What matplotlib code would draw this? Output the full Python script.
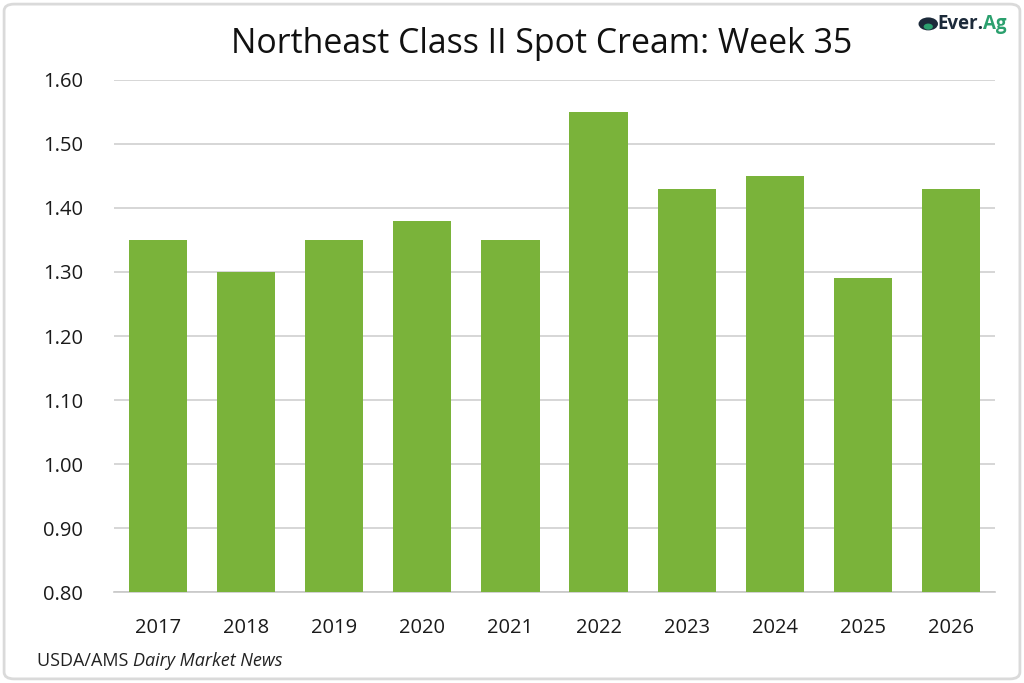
import matplotlib
matplotlib.use("Agg")
import matplotlib.pyplot as plt
from matplotlib.patches import FancyBboxPatch, Circle

years = ["2017", "2018", "2019", "2020", "2021", "2022", "2023", "2024", "2025", "2026"]
prices = [1.35, 1.30, 1.35, 1.38, 1.35, 1.55, 1.43, 1.45, 1.29, 1.43]
yticks = [0.80, 0.90, 1.00, 1.10, 1.20, 1.30, 1.40, 1.50, 1.60]

plt.rcParams['font.family'] = ['Open Sans', 'DejaVu Sans']

fig = plt.figure(figsize=(10.24, 6.83), dpi=100)
ax = fig.add_axes([0.111, 0.1332, 0.861, 0.7497])

x = list(range(len(years)))
ax.bar(x, prices, width=0.66, color="#7AB33A", zorder=3)
ax.set_xlim(-0.5, len(years) - 0.5)
ax.set_ylim(0.8, 1.6)
ax.set_yticks(yticks)
ax.set_yticklabels([f"{v:.2f}" for v in yticks])
ax.set_xticks(x)
ax.set_xticklabels(years)
ax.grid(axis="y", color="#D0D0D0", linewidth=1.2, zorder=0)
for s in ["top", "right", "left"]:
    ax.spines[s].set_visible(False)
ax.spines["bottom"].set_color("#C8C8C8")
ax.spines["bottom"].set_linewidth(1.2)
ax.tick_params(axis="both", length=0, labelsize=14.5, colors="#1a1a1a")
ax.tick_params(axis="x", pad=19)
ax.tick_params(axis="y", pad=22)

fig.text(0.529, 0.936, "Northeast Class II Spot Cream: Week 35", ha="center", va="center",
         fontsize=24.4, color="#111111")

t1 = fig.text(0.036, 0.032, "USDA/AMS ", ha="left", va="center", fontsize=13, color="#222222")
fig.canvas.draw()
bb = t1.get_window_extent()
fig.text(bb.x1 / fig.bbox.width, 0.032, "Dairy Market News", ha="left", va="center",
         fontsize=13, style="italic", color="#222222")

# logo
fig.patches.append(Circle((0.9065, 0.965), 0.0095, transform=fig.transFigure,
                          facecolor="#1C2A3A", edgecolor="none"))
fig.patches.append(Circle((0.9065, 0.961), 0.0045, transform=fig.transFigure,
                          facecolor="#2BA06E", edgecolor="none"))
t2 = fig.text(0.915, 0.965, "Ever.", ha="left", va="center", fontsize=13.5, fontweight="bold",
              color="#1C2A3A")
fig.canvas.draw()
bb2 = t2.get_window_extent()
fig.text(bb2.x1 / fig.bbox.width, 0.965, "Ag", ha="left", va="center", fontsize=13.5,
         fontweight="bold", color="#2BA06E")

border = FancyBboxPatch((0.004, 0.006), 0.992, 0.988, boxstyle="round,pad=0,rounding_size=0.01",
                        transform=fig.transFigure, facecolor="none", edgecolor="#DADADA",
                        linewidth=2)
fig.patches.append(border)

fig.savefig("out.png", dpi=100)
